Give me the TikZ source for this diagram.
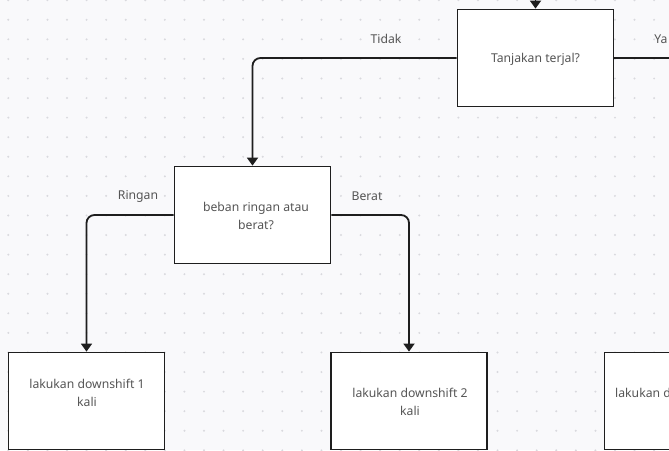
\documentclass[tikz,border=0pt]{standalone}
\usepackage{fontspec}
\setmainfont{Noto Sans}
\usetikzlibrary{arrows.meta}
\definecolor{canvas}{HTML}{F9F9FB}
\definecolor{griddot}{HTML}{D9D9DE}
\definecolor{ink}{HTML}{1E1E1E}
\definecolor{txt}{HTML}{555555}
\begin{document}
\begin{tikzpicture}[x=1pt,y=-1pt,
  box/.style={draw=ink,line width=1.8pt,fill=white,minimum width=156pt,minimum height=97pt,inner sep=0pt},
  lbl/.style={text=txt,font=\fontsize{12.2}{18}\selectfont,align=center},
  flow/.style={draw=ink,line width=1.8pt,rounded corners=8pt,-{Triangle[length=8pt,width=11pt]}},
  link/.style={draw=ink,line width=1.8pt}]
\useasboundingbox (0,0) rectangle (669,450);
\clip (0,0) rectangle (669,450);
\fill[canvas] (0,0) rectangle (669,450);
% dotted background grid
\foreach \i in {0,...,34}{
  \foreach \j in {0,...,23}{
    \fill[griddot] (8.3+19.57*\i,0.2+19.57*\j) circle (1.1pt);
  }
}
% boxes
\node[box] (q1) at (535.5,58) {};
\node[lbl] at (535.5,59) {Tanjakan terjal?};
\node[box] (q2) at (252.5,215) {};
\node[lbl] at (256,216) {beban ringan atau\\berat?};
\node[box] (a1) at (86.5,401) {};
\node[lbl] at (87,393) {lakukan downshift 1\\kali};
\node[box] (a2) at (409,401) {};
\node[lbl] at (410,402) {lakukan downshift 2\\kali};
\node[box] (a3) at (682.5,401) {};
\node[lbl,anchor=west,inner sep=0pt] at (615,393) {lakukan downshift};
% entry from above
\coordinate (top) at (535.5,-20);
\draw[flow] (top) -- (q1.north);
% branches
\coordinate (yaend) at (680,58);
\draw[link] (q1.east) -- (yaend);
\draw[flow] (q1.west) -| (q2.north);
\draw[flow] (q2.west) -| (a1.north);
\draw[flow] (q2.east) -| (a2.north);
% branch labels
\node[lbl] at (386,39) {Tidak};
\node[lbl] at (661,39) {Ya};
\node[lbl] at (138,196) {Ringan};
\node[lbl] at (367,196) {Berat};
\end{tikzpicture}
\end{document}
